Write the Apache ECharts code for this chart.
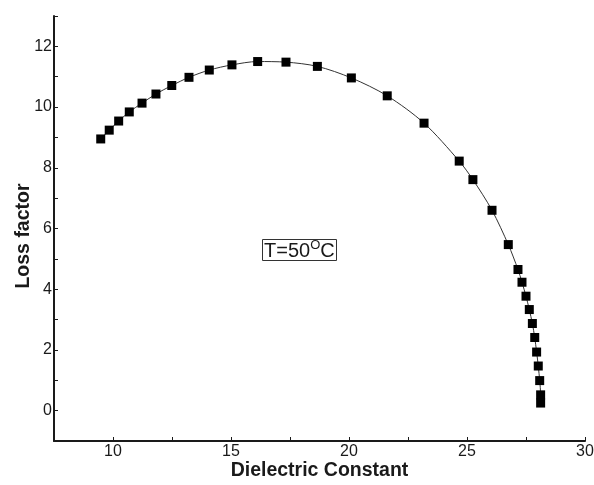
<!DOCTYPE html>
<html>
<head>
<meta charset="utf-8">
<script src="https://cdn.jsdelivr.net/npm/echarts@6/dist/echarts.min.js"></script>
<style>
  html, body { margin: 0; padding: 0; background: #fff; }
  #chart { width: 594px; height: 485px; }
</style>
</head>
<body>
<div id="chart"></div>
<script>
// values
const dielectric = [9.48, 9.84, 10.24, 10.69, 11.23, 11.82, 12.49, 13.22, 14.08, 15.04, 16.13,
  17.33, 18.66, 20.10, 21.62, 23.18, 24.67, 25.25, 26.06, 26.75, 27.16, 27.33, 27.50, 27.64,
  27.77, 27.87, 27.95, 28.02, 28.08, 28.12, 28.12];
const lossFactor = [8.95, 9.24, 9.54, 9.84, 10.13, 10.43, 10.71, 10.98, 11.22, 11.39, 11.50,
  11.48, 11.34, 10.96, 10.37, 9.47, 8.22, 7.61, 6.60, 5.47, 4.65, 4.23, 3.77, 3.33,
  2.87, 2.41, 1.93, 1.47, 0.99, 0.52, 0.25];
const xLabels = [10, 15, 20, 25, 30];
const yLabels = [0, 2, 4, 6, 8, 10, 12];

const font = '"Liberation Sans", Arial, sans-serif';
const ink = '#1a1a1a';

const chart = echarts.init(document.getElementById('chart'));

const points = dielectric.map((x, i) => [x, lossFactor[i]]);

chart.setOption({
  animation: false,
  backgroundColor: '#fff',
  title: {
    // the T=50°C note in a box
    text: '{a|T=50}{s|O}{a|C}',
    left: 262,
    top: 239,
    padding: [0, 2, 0, 2],
    borderWidth: 1,
    borderColor: '#333',
    textStyle: {
      fontWeight: 'normal',
      rich: {
        a: { fontFamily: font, fontSize: 20, fontWeight: 'normal', color: ink, verticalAlign: 'bottom', lineHeight: 22 },
        s: { fontFamily: font, fontSize: 13, fontWeight: 'normal', color: ink, verticalAlign: 'top', lineHeight: 22, padding: [0, 0, 8, 0] }
      }
    }
  },
  grid: { left: 54, right: 9, top: 16, bottom: 44, outerBoundsMode: 'none' },
  xAxis: {
    type: 'value',
    min: 7.5,
    max: 30,
    interval: 2.5,
    name: 'Dielectric Constant',
    nameLocation: 'middle',
    nameGap: 20,
    nameMoveOverlap: false,
    nameTextStyle: { fontFamily: font, fontSize: 19.5, fontWeight: 'bold', color: ink },
    axisLine: { show: true, onZero: false, lineStyle: { color: ink, width: 2 } },
    axisTick: { show: true, inside: true, length: 4, lineStyle: { color: ink, width: 1 } },
    axisLabel: {
      fontFamily: font, fontSize: 16, color: ink, margin: 3,
      formatter: v => xLabels.includes(v) ? String(v) : ''
    },
    splitLine: { show: false }
  },
  yAxis: {
    type: 'value',
    min: -1,
    max: 13,
    interval: 1,
    name: 'Loss factor',
    nameLocation: 'middle',
    nameGap: 20,
    nameMoveOverlap: false,
    nameTextStyle: { fontFamily: font, fontSize: 19.5, fontWeight: 'bold', color: ink, padding: [0, 15, 0, 0] },
    axisLine: { show: true, onZero: false, lineStyle: { color: ink, width: 2 } },
    axisTick: { show: true, inside: true, length: 4, lineStyle: { color: ink, width: 1 } },
    axisLabel: {
      fontFamily: font, fontSize: 16, color: ink, margin: 2,
      formatter: v => yLabels.includes(v) ? String(v) : ''
    },
    splitLine: { show: false }
  },
  series: [{
    type: 'line',
    data: points,
    smooth: 0.3,
    symbol: 'rect',
    symbolSize: 9,
    showAllSymbol: true,
    itemStyle: { color: '#000' },
    lineStyle: { color: '#333', width: 1 }
  }]
});
</script>
</body>
</html>
